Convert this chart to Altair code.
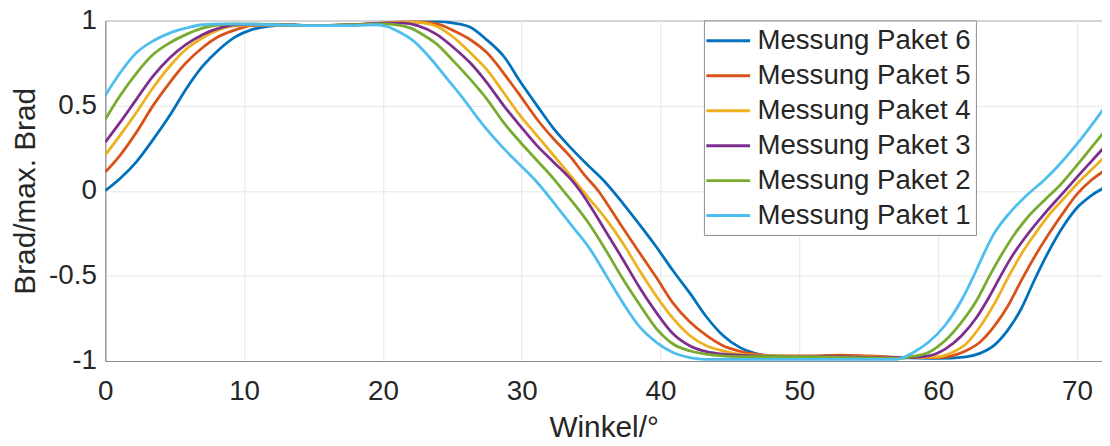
import altair as alt
import pandas as pd

names = ["Messung Paket 6", "Messung Paket 5", "Messung Paket 4",
         "Messung Paket 3", "Messung Paket 2", "Messung Paket 1"]
colors = ["#0072BD", "#D95319", "#EDB120", "#7E2F8E", "#77AC30", "#4DBEEE"]

x_ticks = [0, 10, 20, 30, 40, 50, 60, 70]
y_ticks = [-1, -0.5, 0, 0.5, 1]

# Paket 6
x6 = [0, 1.05, 2.24, 3.44, 4.63, 5.8, 7.0, 8.2, 9.4, 10.5, 11.7, 13, 15, 17.5, 20, 22, 23.9, 25.1,
      26.3, 27.5, 28.7, 29.9, 31.1, 32.3, 33.5, 34.7, 35.9, 37.3, 38.5, 39.7, 40.9, 42.1, 43.3, 44.5,
      45.7, 46.8, 48, 51, 54, 57, 60, 62, 63, 64, 65, 66, 66.9, 68, 69, 70, 71, 72]
y6 = [0.0, 0.07, 0.17, 0.30, 0.44, 0.595, 0.73, 0.83, 0.905, 0.945, 0.965, 0.975, 0.97, 0.975, 0.98,
      0.99, 0.995, 0.985, 0.96, 0.885, 0.79, 0.64, 0.5, 0.365, 0.255, 0.155, 0.06, -0.075, -0.2, -0.33,
      -0.47, -0.6, -0.74, -0.85, -0.92, -0.955, -0.97, -0.975, -0.975, -0.98, -0.985, -0.975, -0.955,
      -0.91, -0.82, -0.69, -0.53, -0.35, -0.21, -0.1, -0.03, 0.02]

# Paket 5
x5 = [0, 1.05, 2.24, 3.44, 4.63, 5.8, 7.0, 8.2, 9.4, 10.5, 12, 15, 18, 20, 22, 23.9, 25.1, 26.3,
      27.5, 28.7, 29.9, 31.1, 32.3, 33.5, 34.5, 35.6, 36.1, 37.3, 38.5, 39.7, 40.9, 42.1, 43.3, 44.5,
      45.6, 46.8, 48.5, 51, 53, 55, 58, 60, 61, 62, 63, 64, 65, 66.1, 67, 68, 69, 70, 71, 72]
y5 = [0.11, 0.207, 0.343, 0.50, 0.634, 0.75, 0.84, 0.907, 0.946, 0.97, 0.975, 0.97, 0.975, 0.985,
      0.995, 0.98, 0.94, 0.887, 0.81, 0.69, 0.557, 0.42, 0.304, 0.2, 0.095, -0.01, -0.07, -0.22,
      -0.366, -0.51, -0.66, -0.77, -0.85, -0.91, -0.94, -0.96, -0.97, -0.97, -0.965, -0.97, -0.98,
      -0.98, -0.97, -0.94, -0.89, -0.8, -0.68, -0.51, -0.38, -0.25, -0.13, -0.02, 0.06, 0.12]

# Paket 4
x4 = [0, 1.05, 2.24, 3.44, 4.63, 5.8, 7.0, 8.2, 9.4, 11, 15, 18, 20, 22, 23, 23.9, 25.1, 26.3, 27.5,
      28.7, 29.9, 31.1, 32.3, 33.5, 34.9, 36.1, 37.3, 38.5, 39.7, 40.9, 42.1, 43.3, 44.5, 45.7, 48,
      51, 54, 57, 60, 61, 62, 63, 64, 65.1, 66, 67, 68, 69, 70, 71, 72]
y4 = [0.21, 0.324, 0.46, 0.605, 0.73, 0.83, 0.897, 0.946, 0.97, 0.975, 0.97, 0.975, 0.985, 0.99,
      0.985, 0.965, 0.9, 0.81, 0.71, 0.576, 0.44, 0.324, 0.207, 0.09, -0.05, -0.17, -0.31, -0.47,
      -0.62, -0.75, -0.85, -0.91, -0.94, -0.96, -0.97, -0.975, -0.975, -0.98, -0.975, -0.95, -0.9,
      -0.8, -0.67, -0.5, -0.37, -0.25, -0.14, -0.05, 0.04, 0.12, 0.2]

# Paket 3
x3 = [0, 1.05, 2.24, 3.44, 4.63, 5.8, 7.0, 8.2, 9.4, 10.5, 15, 18, 20, 21.5, 22.5, 23.9, 25.1, 26.3,
      27.5, 28.7, 29.9, 31.1, 32.3, 33.5, 34.2, 34.9, 36.1, 37.3, 38.5, 39.7, 40.9, 42.1, 43.3, 44.5,
      47, 50, 53, 56, 58, 59.3, 60.5, 61.7, 62.8, 63.7, 64.5, 65.2, 66.4, 67.6, 68.8, 70, 71, 72]
y3 = [0.285, 0.40, 0.537, 0.673, 0.78, 0.858, 0.917, 0.955, 0.975, 0.978, 0.97, 0.975, 0.985, 0.985,
      0.97, 0.917, 0.84, 0.75, 0.634, 0.5, 0.38, 0.265, 0.168, 0.071, 0.0, -0.085, -0.245, -0.405,
      -0.57, -0.716, -0.84, -0.91, -0.945, -0.96, -0.97, -0.975, -0.975, -0.98, -0.98, -0.97, -0.93,
      -0.85, -0.74, -0.62, -0.5, -0.4, -0.26, -0.14, -0.03, 0.08, 0.17, 0.26]

# Paket 2
x2 = [0, 1.05, 2.24, 3.44, 4.63, 5.8, 7.0, 8.2, 9.5, 15, 18, 20, 21, 22, 23, 23.9, 25.1, 26.3, 27.5,
      28.7, 29.9, 31.1, 32.3, 33.0, 34.9, 36.1, 37.3, 38.5, 39.7, 40.9, 42.1, 43.8, 46, 50, 54, 57,
      58, 59.3, 60.5, 61.7, 62.8, 63.7, 64.6, 65.5, 66.4, 67.6, 68.8, 70, 71, 72]
y2 = [0.42, 0.557, 0.69, 0.80, 0.868, 0.917, 0.955, 0.975, 0.98, 0.97, 0.975, 0.98, 0.975, 0.955,
      0.91, 0.86, 0.76, 0.654, 0.537, 0.40, 0.285, 0.178, 0.07, 0.0, -0.2, -0.355, -0.52, -0.67,
      -0.81, -0.9, -0.94, -0.965, -0.975, -0.975, -0.98, -0.985, -0.975, -0.95, -0.88, -0.77, -0.64,
      -0.5, -0.37, -0.255, -0.16, -0.06, 0.035, 0.15, 0.25, 0.35]

# Paket 1
x1 = [0, 1.05, 2.24, 3.44, 4.63, 5.8, 7.0, 8.5, 12, 15, 18, 19.5, 20.3, 21, 22.2, 23.4, 24.6, 25.8,
      26.8, 27.8, 28.8, 29.9, 31.1, 32.5, 33.7, 34.9, 36.1, 37.3, 38.5, 39.7, 40.9, 42.1, 43.3, 46,
      50, 54, 57, 58.2, 59.3, 60.5, 61.7, 62.5, 63.2, 64.0, 65.2, 66.4, 67.6, 68.8, 70, 71, 72]
y1 = [0.56, 0.69, 0.81, 0.88, 0.926, 0.955, 0.975, 0.98, 0.975, 0.97, 0.97, 0.975, 0.965, 0.94,
      0.88, 0.78, 0.66, 0.54, 0.43, 0.33, 0.24, 0.15, 0.05, -0.09, -0.215, -0.34, -0.5, -0.66, -0.8,
      -0.89, -0.95, -0.98, -0.99, -0.99, -0.99, -0.99, -0.99, -0.95, -0.89, -0.79, -0.64, -0.51,
      -0.385, -0.255, -0.125, -0.025, 0.06, 0.16, 0.275, 0.38, 0.49]

series = [(names[0], x6, y6), (names[1], x5, y5), (names[2], x4, y4),
          (names[3], x3, y3), (names[4], x2, y2), (names[5], x1, y1)]
frames = []
for name, xs, ys in series:
    d = pd.DataFrame({"x": xs, "y": ys})
    d["series"] = name
    frames.append(d)
df = pd.concat(frames, ignore_index=True)

FONT = "Liberation Sans"
TEXT = "#262626"
AXIS = "#8c8c8c"

chart = alt.Chart(df).mark_line(
    interpolate="monotone", strokeWidth=2.8, clip=True
).encode(
    x=alt.X("x:Q",
            scale=alt.Scale(domain=[0, 71.8], nice=False, zero=False),
            axis=alt.Axis(values=x_ticks, title="Winkel/°", format="d",
                          labelPadding=17, titlePadding=7)),
    y=alt.Y("y:Q",
            scale=alt.Scale(domain=[-1, 1], nice=False),
            axis=alt.Axis(values=y_ticks, title="Brad/max. Brad",
                          labelExpr="datum.value + ''",
                          labelPadding=9, titlePadding=8)),
    color=alt.Color("series:N",
                    scale=alt.Scale(domain=names, range=colors),
                    legend=alt.Legend(title=None, orient="none",
                                      legendX=603, legendY=0)),
    detail="series:N",
).properties(
    width=1004, height=343,
    autosize=alt.AutoSizeParams(type="none"),
    padding={"left": 98, "top": 11, "right": 0, "bottom": 82},
).configure_view(
    stroke=AXIS, strokeWidth=1
).configure_axis(
    labelFont=FONT, titleFont=FONT, labelFontSize=28, titleFontSize=30,
    labelColor=TEXT, titleColor=TEXT, titleFontWeight="normal",
    domainColor=AXIS, domainWidth=1, ticks=False, tickSize=0,
    gridColor="#e6e6e6", gridWidth=1, labelFlush=False, labelOverlap=False,
).configure_legend(
    labelFont=FONT, labelFontSize=27.8, labelColor=TEXT, labelLimit=0,
    symbolType="M-1.29,0H1.86", symbolSize=784, symbolStrokeWidth=3,
    labelOffset=18, rowPadding=5.2, padding=5,
    fillColor="white", strokeColor=AXIS,
)

chart.save("out.html", embed_options={"renderer": "svg", "actions": False})
